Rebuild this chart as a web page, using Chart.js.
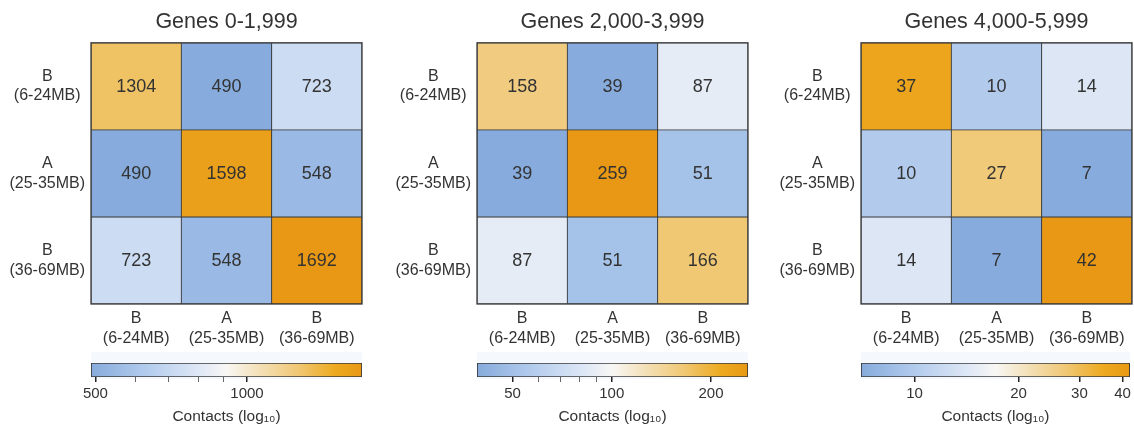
<!DOCTYPE html>
<html>
<head>
<meta charset="UTF-8">
<title>Contacts heatmaps</title>
<script src="https://cdn.jsdelivr.net/npm/chart.js"></script>
<style>
  * {padding: 0; margin: 0;}
  body {width: 1134px; height: 438px; background: #fff; position: relative; overflow: hidden;}
  .box {position: absolute;}
</style>
</head>
<body>
<div class="box" style="left:0px;top:0px;width:370px;height:352px"><canvas id="heat1"></canvas></div>
<div class="box" style="left:386px;top:0px;width:370px;height:352px"><canvas id="heat2"></canvas></div>
<div class="box" style="left:770px;top:0px;width:364px;height:352px"><canvas id="heat3"></canvas></div>
<div class="box" style="left:0px;top:350px;width:370px;height:88px"><canvas id="bar1"></canvas></div>
<div class="box" style="left:386px;top:350px;width:370px;height:88px"><canvas id="bar2"></canvas></div>
<div class="box" style="left:770px;top:350px;width:364px;height:88px"><canvas id="bar3"></canvas></div>
<script>
// compartments (rows and columns are the same)
const rowLabels = [['B', '(6-24MB)'], ['A', '(25-35MB)'], ['B', '(36-69MB)']];
const colLabels = [['B', '(6-24MB)'], ['A', '(25-35MB)'], ['B', '(36-69MB)']];
const titles = ['Genes 0-1,999', 'Genes 2,000-3,999', 'Genes 4,000-5,999'];

// contact counts, one row per array
const contacts1 = [[1304, 490, 723], [490, 1598, 548], [723, 548, 1692]];
const contacts2 = [[158, 39, 87], [39, 259, 51], [87, 51, 166]];
const contacts3 = [[37, 10, 14], [10, 27, 7], [14, 7, 42]];

// colour bar ticks
const major1 = [500, 1000];
const minor1 = [600, 700, 800, 900];
const major2 = [50, 100, 200];
const minor2 = [60, 70, 80, 90];
const major3 = [10, 20, 30, 40];
const minor3 = [];

const textColor = '#333';
const lineColor = '#3a3a3a';
const fontName = '"Liberation Sans", Arial, sans-serif';

// blue - white - orange, by position on the log scale
const cmap = [
  [0.00, [134, 171, 220]],
  [0.20, [178, 203, 237]],
  [0.40, [223, 232, 246]],
  [0.50, [248, 247, 244]],
  [0.60, [244, 228, 194]],
  [0.76, [240, 200, 118]],
  [0.90, [237, 170, 32]],
  [1.00, [232, 152, 20]]
];

function colorAt(t) {
  t = Math.max(0, Math.min(1, t));
  for (let i = 1; i < cmap.length; i++) {
    if (t <= cmap[i][0]) {
      const a = cmap[i - 1], b = cmap[i];
      const f = (t - a[0]) / (b[0] - a[0]);
      const c = a[1].map((v, k) => Math.round(v + (b[1][k] - v) * f));
      return 'rgb(' + c.join(',') + ')';
    }
  }
  return 'rgb(' + cmap[cmap.length - 1][1].join(',') + ')';
}

// numbers in the cells + frame round the matrix
const cellText = {
  id: 'cellText',
  afterDatasetsDraw(chart) {
    const ctx = chart.ctx;
    ctx.save();
    ctx.font = '18px ' + fontName;
    ctx.fillStyle = textColor;
    ctx.textAlign = 'center';
    ctx.textBaseline = 'middle';
    chart.data.datasets.forEach((ds, i) => {
      chart.getDatasetMeta(i).data.forEach((el, j) => {
        const p = el.getCenterPoint();
        ctx.fillText(String(ds.values[j]), p.x, p.y + 1);
      });
    });
    const ca = chart.chartArea;
    ctx.strokeStyle = lineColor;
    ctx.lineWidth = 1.3;
    ctx.strokeRect(ca.left, ca.top, ca.right - ca.left, ca.bottom - ca.top);
    ctx.restore();
  }
};

// faint band behind the colour bar
const barBand = {
  id: 'barBand',
  beforeDraw(chart) {
    const ca = chart.chartArea;
    const ctx = chart.ctx;
    ctx.save();
    ctx.fillStyle = '#f5f8fc';
    ctx.fillRect(ca.left, ca.top - 11, ca.right - ca.left, ca.bottom - ca.top + 13);
    ctx.restore();
  }
};

function heatmap(id, title, values, yWidth, padRight) {
  const lo = Math.log10(Math.min(...values.flat()));
  const hi = Math.log10(Math.max(...values.flat()));
  const datasets = values.map((row, r) => ({
    data: row.map(() => [r, r + 1]),
    values: row,
    backgroundColor: row.map(v => colorAt((Math.log10(v) - lo) / (hi - lo))),
    borderColor: lineColor,
    borderWidth: 0.8,
    borderSkipped: false,
    barPercentage: 1,
    categoryPercentage: 1,
    grouped: false
  }));

  new Chart(document.getElementById(id), {
    type: 'bar',
    data: {labels: colLabels, datasets: datasets},
    options: {
      responsive: true,
      maintainAspectRatio: false,
      animation: false,
      layout: {padding: {left: 0, right: padRight, top: 0, bottom: 0}},
      plugins: {
        legend: {display: false},
        tooltip: {enabled: false},
        title: {
          display: true,
          text: title,
          fullSize: false,
          color: textColor,
          font: {family: fontName, size: 21.5, weight: 'normal'},
          padding: {top: 9, bottom: 8}
        }
      },
      scales: {
        x: {
          grid: {display: false, drawTicks: false},
          border: {display: false},
          ticks: {
            color: textColor,
            font: {family: fontName, size: 16, lineHeight: 1.22},
            padding: 5,
            maxRotation: 0,
            autoSkip: false
          },
          afterFit: s => { s.height = 48; }
        },
        y: {
          min: 0,
          max: 3,
          reverse: true,
          grid: {display: false, drawTicks: false},
          border: {display: false},
          afterBuildTicks: s => { s.ticks = [{value: 0.5}, {value: 1.5}, {value: 2.5}]; },
          ticks: {
            color: textColor,
            font: {family: fontName, size: 16, lineHeight: 1.22},
            padding: 6,
            crossAlign: 'center',
            autoSkip: false,
            callback: (v, i) => rowLabels[i]
          },
          afterFit: s => { s.width = yWidth; }
        }
      }
    },
    plugins: [cellText]
  });
}

function colorBar(id, values, majors, minors, padLeft, padRight) {
  const vMin = Math.min(...values.flat());
  const vMax = Math.max(...values.flat());
  new Chart(document.getElementById(id), {
    type: 'bar',
    data: {
      labels: [''],
      datasets: [{
        data: [[vMin, vMax]],
        backgroundColor: c => {
          const ca = c.chart.chartArea;
          if (!ca) return '#fff';
          const g = c.chart.ctx.createLinearGradient(ca.left, 0, ca.right, 0);
          cmap.forEach(s => g.addColorStop(s[0], 'rgb(' + s[1].join(',') + ')'));
          return g;
        },
        borderColor: lineColor,
        borderWidth: 1.2,
        borderSkipped: false,
        barPercentage: 1,
        categoryPercentage: 1
      }]
    },
    options: {
      indexAxis: 'y',
      responsive: true,
      maintainAspectRatio: false,
      animation: false,
      layout: {padding: {left: padLeft, right: padRight, top: 13, bottom: 0}},
      plugins: {legend: {display: false}, tooltip: {enabled: false}},
      scales: {
        y: {display: false},
        x: {
          type: 'logarithmic',
          min: vMin,
          max: vMax,
          border: {display: false},
          grid: {
            drawOnChartArea: false,
            drawTicks: true,
            tickLength: 5,
            color: c => (c.tick && c.tick.major) ? '#222' : '#666',
            lineWidth: c => (c.tick && c.tick.major) ? 1.5 : 1
          },
          afterBuildTicks: s => {
            s.ticks = majors.concat(minors).sort((a, b) => a - b)
              .map(v => ({value: v, major: majors.includes(v)}));
          },
          ticks: {
            color: textColor,
            font: {family: fontName, size: 15},
            padding: 3,
            maxRotation: 0,
            autoSkip: false,
            callback: v => majors.includes(v) ? String(v) : ''
          },
          title: {
            display: true,
            text: 'Contacts (log\u2081\u2080)',
            color: textColor,
            font: {family: fontName, size: 15.5},
            padding: {top: 0, bottom: 12}
          },
          afterFit: s => { s.height = 61; }
        }
      }
    },
    plugins: [barBand]
  });
}

heatmap('heat1', titles[0], contacts1, 91, 8);
heatmap('heat2', titles[1], contacts2, 91, 8);
heatmap('heat3', titles[2], contacts3, 91, 2);
colorBar('bar1', contacts1, major1, minor1, 91, 8);
colorBar('bar2', contacts2, major2, minor2, 91, 8);
colorBar('bar3', contacts3, major3, minor3, 91, 2);
</script>
</body>
</html>
